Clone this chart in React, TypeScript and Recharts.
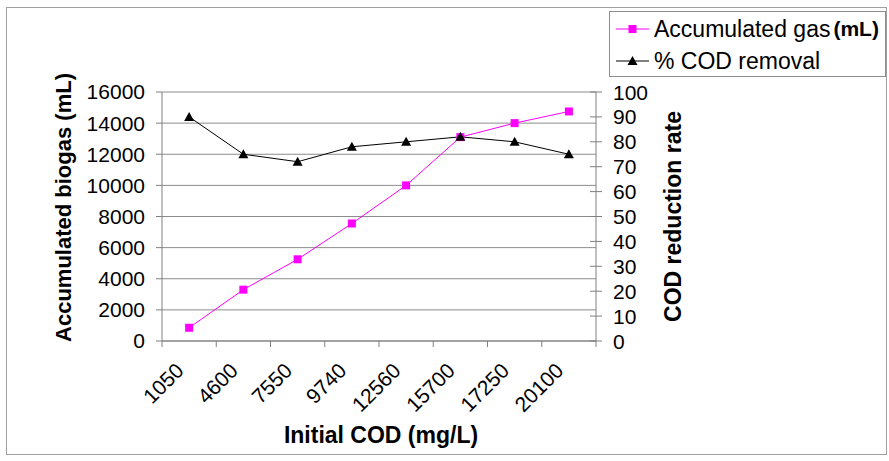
import { LineChart, Line, XAxis, YAxis, CartesianGrid, Legend } from "recharts";

const categories = ["1050", "4600", "7550", "9740", "12560", "15700", "17250", "20100"];
const gasValues = [850, 3300, 5250, 7550, 10000, 13100, 14000, 14750];
const removalValues = [90, 75, 72, 78, 80, 82, 80, 75];
const leftTicks = [0, 2000, 4000, 6000, 8000, 10000, 12000, 14000, 16000];
const rightTicks = [0, 10, 20, 30, 40, 50, 60, 70, 80, 90, 100];

const FONT = "'Liberation Sans', Arial, sans-serif";
const AXIS_GRAY = "#808080";

const data = categories.map((cod, i) => ({
  pos: i + 0.5,
  cod,
  gas: gasValues[i],
  removal: removalValues[i],
}));

// boundaries (integers) get tick marks, band centres (halves) get labels
const xTicks = Array.from({ length: categories.length * 2 + 1 }, (_, i) => i / 2);

const XTick = (props: any) => {
  const { x, y, payload } = props;
  const v = payload.value as number;
  if (Number.isInteger(v)) {
    return <line x1={x} y1={y} x2={x} y2={y + 6} stroke={AXIS_GRAY} />;
  }
  const tx = x - 4;
  const ty = y + 31;
  return (
    <text
      x={tx}
      y={ty}
      transform={`rotate(-45 ${tx} ${ty})`}
      textAnchor="end"
      fontSize={21}
      fontFamily={FONT}
      fill="#000"
    >
      {categories[Math.floor(v)]}
    </text>
  );
};

const RightTick = (props: any) => {
  const { x, y, payload } = props;
  return (
    <g>
      <line x1={x - 23} y1={y} x2={x - 11} y2={y} stroke={AXIS_GRAY} />
      <text x={x} y={y} dominantBaseline="central" fontSize={21} fontFamily={FONT} fill="#000">
        {payload.value}
      </text>
    </g>
  );
};

const SquareDot = (props: any) => {
  const { cx, cy, index } = props;
  return <rect key={`sq-${index}`} x={cx - 4} y={cy - 4} width={8} height={8} fill="#ff00ff" />;
};

const TriangleDot = (props: any) => {
  const { cx, cy, index } = props;
  return (
    <path
      key={`tr-${index}`}
      d={`M${cx},${cy - 5} L${cx + 5},${cy + 4} L${cx - 5},${cy + 4} Z`}
      fill="#000"
    />
  );
};

const LegendBox = () => (
  <div
    style={{
      width: 275,
      height: 64,
      border: "1px solid #8c8c8c",
      background: "#fff",
      fontFamily: FONT,
      fontSize: 23,
      color: "#000",
    }}
  >
    <div style={{ height: 34, display: "flex", alignItems: "center" }}>
      <svg width={44} height={20}>
        <line x1={6} y1={10} x2={39} y2={10} stroke="#ff00ff" />
        <rect x={18.5} y={6} width={8} height={8} fill="#ff00ff" />
      </svg>
      <span>Accumulated gas</span>
      <span style={{ fontWeight: "bold", fontSize: 21, marginLeft: 3 }}>(mL)</span>
    </div>
    <div style={{ height: 30, display: "flex", alignItems: "center" }}>
      <svg width={44} height={20}>
        <line x1={6} y1={10} x2={39} y2={10} stroke="#000" />
        <path d="M22.5,5 L27.5,14 L17.5,14 Z" fill="#000" />
      </svg>
      <span>% COD removal</span>
    </div>
  </div>
);

export default function App() {
  return (
    <div style={{ position: "absolute", left: 0, top: 0, width: 889, height: 461, background: "#fff" }}>
      <div
        style={{
          position: "absolute",
          left: 6,
          top: 7,
          width: 879,
          height: 446,
          border: "1px solid #a0a0a0",
        }}
      />
      <LineChart
        width={889}
        height={461}
        data={data}
        margin={{ top: 92, right: 193, bottom: 10, left: 0 }}
        style={{ fontFamily: FONT }}
      >
        <CartesianGrid yAxisId="left" vertical={false} stroke="#8c8c8c" />
        <XAxis
          dataKey="pos"
          type="number"
          domain={[0, categories.length]}
          ticks={xTicks}
          interval={0}
          tickLine={false}
          tickSize={0}
          tickMargin={0}
          tick={<XTick />}
          axisLine={{ stroke: AXIS_GRAY }}
          height={110}
          label={{
            content: (p: any) => {
              const vb = p.viewBox;
              return (
                <text
                  x={vb.x + vb.width / 2 + 2}
                  y={vb.y + 94}
                  textAnchor="middle"
                  dominantBaseline="central"
                  fontSize={23}
                  fontWeight="bold"
                  fontFamily={FONT}
                  fill="#000"
                >
                  Initial COD (mg/L)
                </text>
              );
            },
          }}
        />
        <YAxis
          yAxisId="left"
          domain={[0, 16000]}
          ticks={leftTicks}
          interval={0}
          width={162}
          tickSize={6}
          tickMargin={11}
          tick={{ fill: "#000", fontSize: 21, fontFamily: FONT }}
          tickLine={{ stroke: AXIS_GRAY }}
          axisLine={{ stroke: AXIS_GRAY }}
          label={{
            content: (p: any) => {
              const vb = p.viewBox;
              const cx = vb.x + 63;
              const cy = vb.y + vb.height / 2 - 9;
              return (
                <text
                  x={cx}
                  y={cy}
                  transform={`rotate(-90 ${cx} ${cy})`}
                  textAnchor="middle"
                  dominantBaseline="central"
                  fontSize={22}
                  fontWeight="bold"
                  fontFamily={FONT}
                  fill="#000"
                >
                  Accumulated biogas (mL)
                </text>
              );
            },
          }}
        />
        <YAxis
          yAxisId="right"
          orientation="right"
          domain={[0, 100]}
          ticks={rightTicks}
          interval={0}
          width={100}
          tickSize={6}
          tickMargin={11}
          tickLine={false}
          tick={<RightTick />}
          axisLine={{ stroke: AXIS_GRAY }}
          label={{
            content: (p: any) => {
              const vb = p.viewBox;
              const cx = vb.x + 77;
              const cy = vb.y + vb.height / 2;
              return (
                <text
                  x={cx}
                  y={cy}
                  transform={`rotate(-90 ${cx} ${cy})`}
                  textAnchor="middle"
                  dominantBaseline="central"
                  fontSize={23}
                  fontWeight="bold"
                  fontFamily={FONT}
                  fill="#000"
                >
                  COD reduction rate
                </text>
              );
            },
          }}
        />
        <Legend
          layout="horizontal"
          verticalAlign="middle"
          align="center"
          wrapperStyle={{ left: 609, top: 11, width: 277 }}
          content={() => <LegendBox />}
        />
        <Line
          yAxisId="left"
          dataKey="gas"
          name="Accumulated gas (mL)"
          stroke="#ff00ff"
          strokeWidth={1}
          dot={<SquareDot />}
          activeDot={false}
          isAnimationActive={false}
        />
        <Line
          yAxisId="right"
          dataKey="removal"
          name="% COD removal"
          stroke="#000"
          strokeWidth={1}
          dot={<TriangleDot />}
          activeDot={false}
          isAnimationActive={false}
        />
      </LineChart>
    </div>
  );
}
